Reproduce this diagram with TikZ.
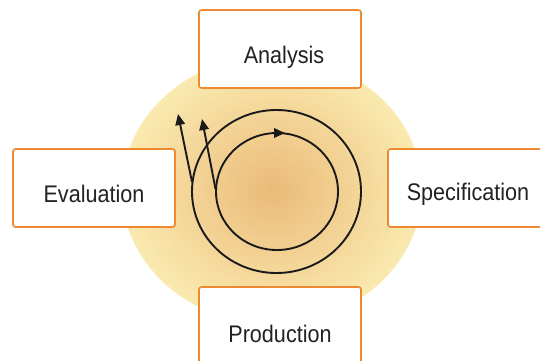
\documentclass[tikz,border=0pt]{standalone}
\usepackage{fontspec}
\setmainfont{Liberation Sans}[FakeStretch=0.9]
\usetikzlibrary{arrows.meta,shapes.geometric}
\definecolor{boxorange}{RGB}{237,137,48}
\definecolor{glowin}{RGB}{235,186,120}
\definecolor{glowout}{RGB}{250,234,176}
\definecolor{ink}{RGB}{26,26,26}
\definecolor{txt}{RGB}{34,34,34}
\tikzset{
  phasebox/.style={draw=boxorange, line width=1.6pt, fill=white, rounded corners=2.5pt,
    minimum width=162pt, minimum height=78pt, inner sep=0pt, outer sep=0pt, anchor=north west},
  phasetext/.style={text=txt, font=\fontsize{24pt}{28pt}\selectfont, anchor=base, inner sep=0pt},
  loop/.style={draw=ink, line width=1.9pt, ellipse, inner sep=0pt, outer sep=0pt},
  arr/.style={draw=ink, line width=1.9pt, -{Triangle[length=11pt,width=9.5pt]}}
}
\begin{document}
\begin{tikzpicture}[x=1pt,y=-1pt]
\useasboundingbox (0,0) rectangle (540,360);
\clip (0,0) rectangle (540,360);
% glow
\node[ellipse, minimum width=300pt, minimum height=268pt, inner sep=0pt,
  shading=radial, inner color=glowin, outer color=glowout] (glow) at (272,190) {};
% boxes
\node[phasebox] (analysisbox) at (199,10) {};
\node[phasebox] (evalbox) at (13,149) {};
\node[phasebox] (specbox) at (388,149) {};
\node[phasebox] (prodbox) at (199,287) {};
% texts
\node[phasetext] (analysis) at (284,63) {Analysis};
\node[phasetext] (evaluation) at (94,202) {Evaluation};
\node[phasetext] (specification) at (468,200) {Specification};
\node[phasetext] (production) at (280,342) {Production};
% loops
\node[loop, minimum width=169pt, minimum height=163pt] (outer) at (276.5,191.5) {};
\node[loop, minimum width=122pt, minimum height=117pt] (inner) at (277,191.5) {};
\coordinate (outerstart) at (192,182);
\coordinate (innerstart) at (215.5,189);
\coordinate (outertip) at (178,114);
\coordinate (innertip) at (202,119);
\draw[arr] (outerstart) -- (outertip);
\draw[arr] (innerstart) -- (innertip);
\coordinate (topa) at ([xshift=-4pt]inner.north);
\coordinate (topb) at ([xshift=8pt]inner.north);
\draw[arr] (topa) -- (topb);
\end{tikzpicture}
\end{document}
